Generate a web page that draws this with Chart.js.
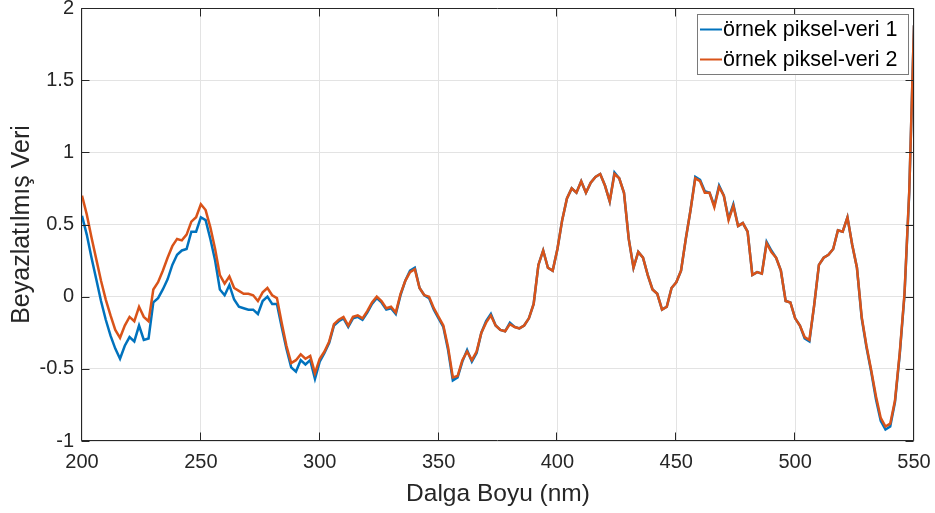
<!DOCTYPE html>
<html>
<head>
<meta charset="utf-8">
<script src="https://cdn.jsdelivr.net/npm/chart.js@4.4.0/dist/chart.umd.min.js"></script>
<style>
  html, body { margin: 0; padding: 0; background: #fff; }
  #wrap { width: 935px; height: 513px; }
</style>
</head>
<body>
<div id="wrap"><canvas id="spektrum" width="935" height="513"></canvas></div>
<script>
// dalga boyu ekseni (nm)
var dalgaBoyu = [
  200,202,204,206,208,210,212,214,216,218,220,222,224,226,228,230,232,234,236,238,
  240,242,244,246,248,250,252,254,256,258,260,262,264,266,268,270,272,274,276,278,
  280,282,284,286,288,290,292,294,296,298,300,302,304,306,308,310,312,314,316,318,
  320,322,324,326,328,330,332,334,336,338,340,342,344,346,348,350,352,354,356,358,
  360,362,364,366,368,370,372,374,376,378,380,382,384,386,388,390,392,394,396,398,
  400,402,404,406,408,410,412,414,416,418,420,422,424,426,428,430,432,434,436,438,
  440,442,444,446,448,450,452,454,456,458,460,462,464,466,468,470,472,474,476,478,
  480,482,484,486,488,490,492,494,496,498,500,502,504,506,508,510,512,514,516,518,
  520,522,524,526,528,530,532,534,536,538,540,542,544,546,548,550
];

var veri1 = [
  0.56,0.43,0.27,0.12,-0.03,-0.16,-0.27,-0.36,-0.43,-0.34,-0.28,-0.31,-0.20,-0.30,-0.29,-0.04,-0.01,0.05,0.12,0.22,
  0.29,0.32,0.33,0.45,0.45,0.55,0.53,0.40,0.25,0.05,0.01,0.08,-0.02,-0.07,-0.08,-0.09,-0.09,-0.12,-0.03,0.00,
  -0.05,-0.05,-0.21,-0.36,-0.49,-0.52,-0.44,-0.47,-0.44,-0.57,-0.45,-0.39,-0.32,-0.20,-0.17,-0.15,-0.21,-0.15,-0.14,-0.16,
  -0.11,-0.05,-0.01,-0.04,-0.09,-0.08,-0.12,0.01,0.11,0.18,0.20,0.06,0.01,-0.01,-0.09,-0.15,-0.21,-0.37,-0.58,-0.56,
  -0.45,-0.37,-0.45,-0.39,-0.25,-0.17,-0.12,-0.20,-0.23,-0.24,-0.18,-0.21,-0.22,-0.20,-0.15,-0.05,0.22,0.32,0.20,0.18,
  0.33,0.53,0.68,0.75,0.72,0.80,0.72,0.79,0.83,0.85,0.77,0.66,0.86,0.82,0.72,0.40,0.20,0.31,0.27,0.15,
  0.05,0.02,-0.09,-0.07,0.06,0.10,0.18,0.40,0.60,0.83,0.81,0.73,0.72,0.63,0.77,0.70,0.54,0.64,0.49,0.51,
  0.45,0.15,0.17,0.16,0.38,0.32,0.27,0.18,-0.03,-0.04,-0.15,-0.20,-0.29,-0.31,-0.06,0.22,0.27,0.29,0.33,0.46,
  0.45,0.55,0.36,0.20,-0.15,-0.35,-0.52,-0.71,-0.86,-0.92,-0.90,-0.73,-0.40,0.01,0.72,1.88
];

var veri2 = [
  0.70,0.57,0.41,0.26,0.11,-0.02,-0.13,-0.23,-0.285,-0.20,-0.14,-0.17,-0.07,-0.14,-0.17,0.05,0.10,0.18,0.27,0.35,
  0.40,0.39,0.43,0.52,0.55,0.64,0.60,0.48,0.33,0.15,0.09,0.14,0.06,0.04,0.02,0.02,0.01,-0.03,0.03,0.06,
  0.01,-0.01,-0.18,-0.34,-0.46,-0.44,-0.40,-0.43,-0.41,-0.53,-0.43,-0.38,-0.31,-0.19,-0.16,-0.14,-0.20,-0.14,-0.13,-0.15,
  -0.10,-0.04,0.00,-0.03,-0.08,-0.07,-0.11,0.02,0.11,0.17,0.19,0.06,0.01,0.00,-0.08,-0.14,-0.20,-0.35,-0.56,-0.55,
  -0.44,-0.38,-0.44,-0.38,-0.25,-0.18,-0.13,-0.20,-0.23,-0.24,-0.19,-0.21,-0.22,-0.20,-0.15,-0.05,0.22,0.32,0.20,0.18,
  0.33,0.53,0.68,0.75,0.72,0.80,0.72,0.79,0.83,0.85,0.77,0.66,0.85,0.82,0.72,0.40,0.20,0.31,0.27,0.15,
  0.05,0.02,-0.09,-0.07,0.06,0.10,0.18,0.40,0.60,0.82,0.80,0.72,0.72,0.62,0.76,0.70,0.53,0.63,0.49,0.51,
  0.45,0.15,0.17,0.16,0.37,0.31,0.27,0.18,-0.03,-0.04,-0.15,-0.20,-0.28,-0.30,-0.06,0.22,0.27,0.29,0.33,0.46,
  0.45,0.55,0.36,0.20,-0.14,-0.34,-0.51,-0.69,-0.84,-0.90,-0.88,-0.72,-0.39,0.02,0.73,1.88
];

var seriAdlari = ['örnek piksel-veri 1', 'örnek piksel-veri 2'];
var seriRenkleri = ['#0072BD', '#D95319'];

var xTikleri = [200, 250, 300, 350, 400, 450, 500, 550];
var yTikleri = [-1, -0.5, 0, 0.5, 1, 1.5, 2];
var yTikEtiketleri = ['-1', '-0.5', '0', '0.5', '1', '1.5', '2'];

var eksenRengi = '#262626';
var yazi = 'Liberation Sans, Arial, Helvetica, sans-serif';

function noktalar(degerler) {
  return dalgaBoyu.map(function (x, i) { return { x: x, y: degerler[i] }; });
}

// MATLAB tarzı kutu, içe dönük tikler ve lejant
var cerceve = {
  id: 'cerceve',
  afterDatasetsDraw: function (chart) {
    var ctx = chart.ctx;
    var a = chart.chartArea;
    var xs = chart.scales.x, ys = chart.scales.y;
    var L = Math.round(a.left) - 0.5, R = Math.round(a.right) - 0.5;
    var T = Math.round(a.top) + 0.5, B = Math.round(a.bottom) - 0.5;
    var tik = 8;

    ctx.save();
    ctx.strokeStyle = eksenRengi;
    ctx.lineWidth = 1;
    ctx.beginPath();
    ctx.rect(L, T, R - L, B - T);
    xTikleri.forEach(function (v) {
      var px = Math.round(xs.getPixelForValue(v)) - 0.5;
      ctx.moveTo(px, B); ctx.lineTo(px, B - tik);
      ctx.moveTo(px, T); ctx.lineTo(px, T + tik);
    });
    yTikleri.forEach(function (v) {
      var py = Math.round(ys.getPixelForValue(v)) + 0.5;
      ctx.moveTo(L, py); ctx.lineTo(L + tik, py);
      ctx.moveTo(R, py); ctx.lineTo(R - tik, py);
    });
    ctx.stroke();

    // lejant kutusu
    var lx = 697.5, ly = 14.5, lw = 211, lh = 60;
    ctx.fillStyle = '#ffffff';
    ctx.fillRect(lx, ly, lw, lh);
    ctx.strokeStyle = '#7a7a7a';
    ctx.strokeRect(lx, ly, lw, lh);
    ctx.font = '21.5px ' + yazi;
    ctx.textBaseline = 'middle';
    ctx.textAlign = 'left';
    chart.data.datasets.forEach(function (ds, i) {
      var y = 29.5 + i * 30;
      ctx.strokeStyle = ds.borderColor;
      ctx.lineWidth = 2;
      ctx.beginPath();
      ctx.moveTo(700, y); ctx.lineTo(722, y);
      ctx.stroke();
      ctx.fillStyle = '#000000';
      ctx.fillText(ds.label, 723, y + 1);
    });
    ctx.restore();
  }
};

var ctx = document.getElementById('spektrum').getContext('2d');
var chart = new Chart(ctx, {
  type: 'line',
  data: {
    datasets: [{
      label: seriAdlari[0],
      data: noktalar(veri1),
      borderColor: seriRenkleri[0],
      borderWidth: 2.5,
      pointRadius: 0,
      order: 1
    }, {
      label: seriAdlari[1],
      data: noktalar(veri2),
      borderColor: seriRenkleri[1],
      borderWidth: 2.5,
      pointRadius: 0,
      order: 0
    }]
  },
  options: {
    responsive: false,
    animation: false,
    devicePixelRatio: 1,
    layout: { padding: { top: 8, right: 21, left: 0, bottom: 0 } },
    plugins: {
      legend: { display: false },
      tooltip: { enabled: false }
    },
    scales: {
      x: {
        type: 'linear',
        min: 200,
        max: 550,
        afterFit: function (s) { s.height = 72; s.paddingLeft = 0; s.paddingRight = 0; },
        afterBuildTicks: function (s) { s.ticks = xTikleri.map(function (v) { return { value: v }; }); },
        grid: { color: '#e3e3e3', drawTicks: false },
        border: { display: false },
        ticks: { padding: 9, color: eksenRengi, font: { family: yazi, size: 20 }, maxRotation: 0 },
        title: {
          display: true,
          text: 'Dalga Boyu (nm)',
          color: eksenRengi,
          font: { family: yazi, size: 24.5 },
          padding: { top: 0, bottom: 4 }
        }
      },
      y: {
        min: -1,
        max: 2,
        afterFit: function (s) { s.width = 82; s.paddingTop = 0; s.paddingBottom = 0; },
        afterBuildTicks: function (s) { s.ticks = yTikleri.map(function (v) { return { value: v }; }); },
        grid: { color: '#e3e3e3', drawTicks: false },
        border: { display: false },
        ticks: {
          padding: 8,
          color: eksenRengi,
          font: { family: yazi, size: 20 },
          callback: function (v) { return yTikEtiketleri[yTikleri.indexOf(v)]; }
        },
        title: {
          display: true,
          text: 'Beyazlatılmış Veri',
          color: eksenRengi,
          font: { family: yazi, size: 25 },
          padding: { top: 7, bottom: 0 }
        }
      }
    }
  },
  plugins: [cerceve]
});
</script>
</body>
</html>
